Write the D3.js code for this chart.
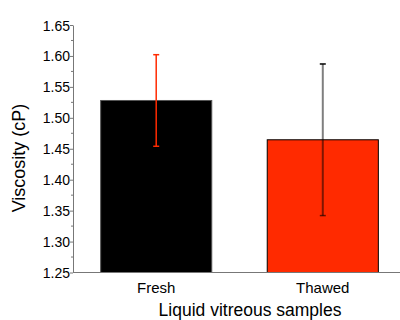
<!DOCTYPE html>
<html>
<head>
<meta charset="utf-8">
<script src="https://cdn.jsdelivr.net/npm/d3@7"></script>
<style>
  html, body { margin: 0; padding: 0; background: #fff; }
  svg { display: block; font-family: "Liberation Sans", Arial, sans-serif; }
</style>
</head>
<body>
<svg id="chart" width="400" height="320"></svg>
<script>
// Mean viscosity of liquid vitreous samples with standard deviation
const categories = ["Fresh", "Thawed"];
const means = [1.528, 1.4645];
const errors = [0.074, 0.1225];
const yTicks = [1.25, 1.30, 1.35, 1.40, 1.45, 1.50, 1.55, 1.60, 1.65];

const barFill = ["#000000", "#ff2a00"];
const barStroke = ["#555555", "#000000"];
const errColor = ["#ff2a00", "#000000"];

const svg = d3.select("#chart");
const plotLeft = 73, plotBottom = 272.5, plotTop = 25;

const x = d3.scaleBand().domain(categories).range([plotLeft, 406])
  .paddingInner(0.333).paddingOuter(0.166);
const y = d3.scaleLinear().domain([1.25, 1.65]).range([plotBottom, plotTop]);

// minor ticks between labelled values
const minor = d3.range(1.275, 1.65, 0.05);
svg.append("g").selectAll("line").data(minor).join("line")
  .attr("x1", plotLeft - 2).attr("x2", plotLeft)
  .attr("y1", d => y(d)).attr("y2", d => y(d))
  .attr("stroke", "#777").attr("stroke-width", 1);

// y axis
const yAxis = svg.append("g").attr("transform", `translate(${plotLeft},0)`)
  .call(d3.axisLeft(y).tickValues(yTicks).tickFormat(d3.format(".2f"))
    .tickSize(3).tickPadding(0).tickSizeOuter(0));
yAxis.select(".domain").attr("stroke", "#777");
yAxis.selectAll(".tick line").attr("stroke", "#777");
yAxis.selectAll("text").attr("font-size", 14).attr("fill", "#000")
  .attr("font-family", "Liberation Sans, Arial, sans-serif").attr("dy", "0.36em");

// bars
svg.append("g").selectAll("rect").data(categories).join("rect")
  .attr("x", d => x(d))
  .attr("y", (d, i) => y(means[i]))
  .attr("width", x.bandwidth())
  .attr("height", (d, i) => plotBottom - y(means[i]))
  .attr("fill", (d, i) => barFill[i])
  .attr("stroke", (d, i) => barStroke[i])
  .attr("stroke-width", 1);

// x axis line
svg.append("line").attr("x1", plotLeft).attr("x2", 400)
  .attr("y1", plotBottom).attr("y2", plotBottom)
  .attr("stroke", "#777").attr("stroke-width", 1.2);

// error bars
const eb = svg.append("g").selectAll("g").data(categories).join("g")
  .attr("transform", d => `translate(${x(d) + x.bandwidth() / 2},0)`);
eb.append("line")
  .attr("y1", (d, i) => y(means[i] + errors[i]))
  .attr("y2", (d, i) => y(means[i] - errors[i]))
  .attr("stroke", (d, i) => errColor[i])
  .attr("stroke-opacity", (d, i) => i === 1 ? 0.5 : 1)
  .attr("stroke-width", (d, i) => i === 1 ? 2 : 1.5);
eb.each(function(d, i) {
  const g = d3.select(this);
  [means[i] + errors[i], means[i] - errors[i]].forEach(v => {
    g.append("line").attr("x1", -3).attr("x2", 3)
      .attr("y1", y(v)).attr("y2", y(v))
      .attr("stroke", errColor[i]).attr("stroke-width", 1.5)
      .attr("stroke-opacity", i === 1 && v < means[i] ? 0.6 : 1);
  });
});

// category labels
svg.append("g").selectAll("text").data(categories).join("text")
  .attr("x", d => x(d) + x.bandwidth() / 2)
  .attr("y", 293)
  .attr("text-anchor", "middle")
  .attr("font-size", 15)
  .text(d => d);

// axis titles
svg.append("text").attr("x", 250).attr("y", 315.5)
  .attr("text-anchor", "middle").attr("font-size", 17.5)
  .text("Liquid vitreous samples");
svg.append("text")
  .attr("transform", "translate(25,158) rotate(-90)")
  .attr("text-anchor", "middle").attr("font-size", 18)
  .text("Viscosity (cP)");
</script>
</body>
</html>
